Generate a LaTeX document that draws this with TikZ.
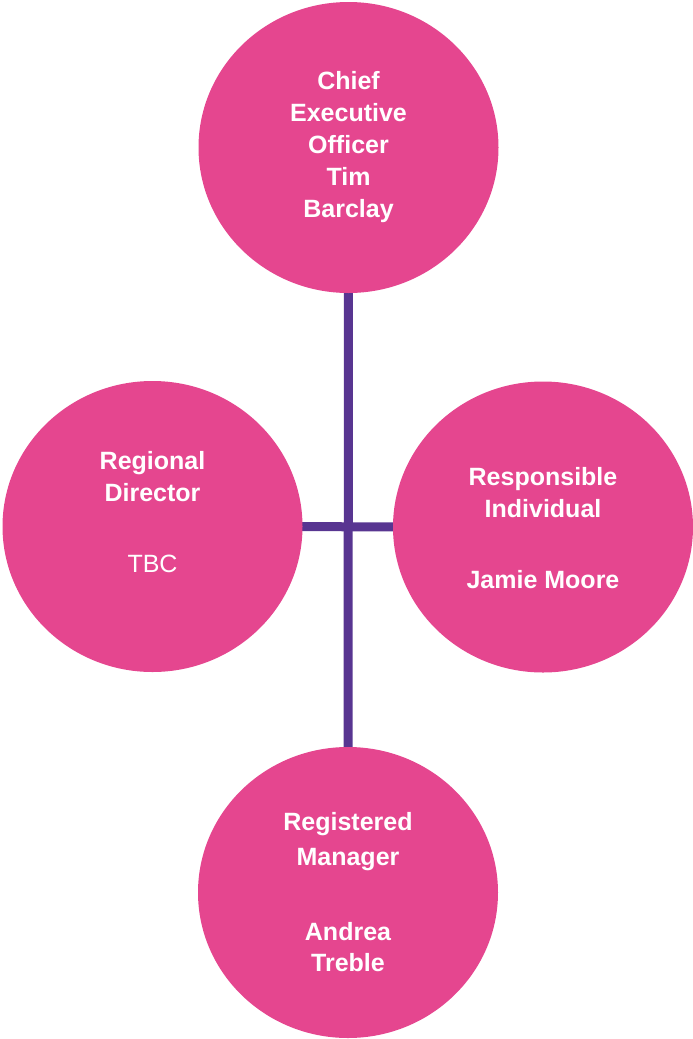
\documentclass[tikz,border=0pt]{standalone}
\usepackage{fontspec}
\setmainfont{Liberation Sans}
\usetikzlibrary{shapes.geometric,backgrounds}
\usepackage{xcolor}
\definecolor{rolepink}{RGB}{229,70,143}
\definecolor{linkpurple}{RGB}{88,53,145}

\begin{document}
\begin{tikzpicture}[x=1pt,y=-1pt,
	role/.style={ellipse,fill=rolepink,minimum width=300pt,minimum height=291pt,inner sep=0pt},
	roletext/.style={text=white,align=center,inner sep=0pt,font=\bfseries\fontsize{25}{32}\selectfont},
	link/.style={draw=linkpurple,line width=9pt}]

	\useasboundingbox (0,0) rectangle (693,1039);

	% roles
	\node[role] (ceo) at (348.5,147.5) {};
	\node[role] (rd) at (152.5,526.5) {};
	\node[role] (ri) at (543,527) {};
	\node[role] (rm) at (348,892.5) {};

	% links
	\begin{scope}[on background layer]
		\draw[link] (ceo.center) -- (rm.center);
		\draw[link] (rd.center) -- (ri.center);
	\end{scope}

	% names
	\node[roletext] (ceotext) at (ceo.center) {Chief\\Executive\\Officer\\Tim\\Barclay};
	\node[roletext] (rdtext) at ([yshift=14pt]rd.center) {Regional\\Director\\[39pt]{\mdseries TBC}};
	\node[roletext] (ritext) at ([yshift=-1.5pt]ri.center) {Responsible\\Individual\\[39pt]Jamie Moore};
	\node[roletext] (rmtext) at (rm.center) {Registered\\[3pt]Manager\\[43pt]Andrea\\[-1pt]Treble};

\end{tikzpicture}
\end{document}
